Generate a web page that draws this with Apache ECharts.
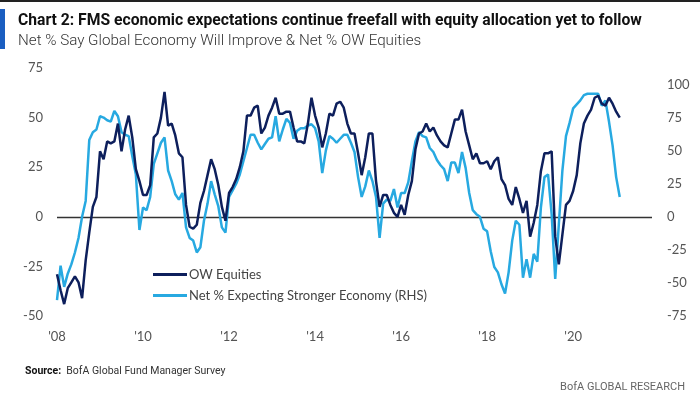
<!DOCTYPE html>
<html>
<head>
<meta charset="utf-8">
<script src="https://cdn.jsdelivr.net/npm/echarts@6/dist/echarts.min.js"></script>
<style>
  html, body { margin: 0; padding: 0; background: #fff; }
  #chart { width: 700px; height: 399px; }
</style>
</head>
<body>
<div id="chart"></div>
<script>
// monthly points, first point = Jan '08 on the axis
var startYear = 2008;
var yearTicks = ["'08", "'10", "'12", "'14", "'16", "'18", "'20"];

// OW Equities (net %, LHS)
var owEquities = [
  -29, -37, -44, -36, -33, -30, -33, -41, -22, -8, 5, 10,
  33, 29, 38, 37, 38, 47, 33, 44, 51, 40, 24, 18,
  11, 11, 16, 40, 42, 50, 63, 46, 47, 41, 32, 30,
  6, -5, -6, -4, 7, 13, 21, 29, 24, 16, 5, -2,
  12, 15, 19, 25, 33, 51, 51, 55, 56, 42, 45, 51,
  55, 60, 52, 52, 53, 53, 45, 38, 38, 37, 47, 60,
  51, 45, 35, 42, 52, 51, 57, 58, 55, 47, 42, 42,
  32, 21, 30, 42, 42, 18, 5, 11, 11, 6, 2, 0,
  6, 1, 11, 18, 34, 42, 43, 47, 43, 45, 41, 38,
  36, 35, 42, 49, 49, 54, 43, 36, 29, 32, 27, 27,
  28, 24, 28, 30, 19, 16, 9, 6, 15, 9, 2, 8,
  -10, -3, 6, 23, 32, 32, 33, -10, -24, -9, 6, 8,
  13, 21, 37, 47, 51, 54, 60, 61, 57, 56, 60, 57,
  53, 50
];

// Net % expecting stronger economy (RHS)
var economyNet = [
  -63, -37, -53, -43, -36, -27, -16, 0, 12, 58, 64, 66,
  76, 75, 73, 72, 80, 76, 64, 62, 61, 46, 32, -10,
  7, 5, 15, 40, 48, 56, 60, 35, 27, 17, 13, 18,
  -8, -16, -18, -27, -23, -3, 10, 27, 17, 8, -8, -12,
  15, 20, 25, 32, 42, 52, 62, 62, 56, 51, 55, 59,
  60, 76, 57, 66, 74, 71, 59, 65, 67, 67, 69, 70,
  67, 57, 33, 50, 61, 59, 56, 59, 62, 62, 56, 49,
  30, 15, 23, 35, 27, 15, -16, 10, 13, 12, 21, 7,
  18, 18, 26, 42, 57, 64, 61, 60, 52, 49, 43, 39,
  36, 27, 41, 41, 33, 49, 37, 18, 5, 2, 0, -9,
  -11, -26, -38, -42, -51, -58, -42, -18, -3, -6, -46, -32,
  -46, -28, -34, 7, 30, 32, 2, -47, -6, 35, 61, 71,
  82, 85, 88, 92, 93, 93, 93, 93, 84, 88, 72, 54,
  30, 15
];

var navy = "#0d1f5c";
var sky = "#27a9e1";
var labelFont = "Lato";
var headFont = "Roboto";

function toPoints(arr) {
  return arr.map(function (v, i) { return [i, v]; });
}

var myChart = echarts.init(document.getElementById("chart"), null, { renderer: "canvas" });

var option = {
  backgroundColor: "#fff",
  animation: false,
  title: [
    {
      text: "Chart 2: FMS economic expectations continue freefall with equity allocation yet to follow",
      subtext: "Net % Say Global Economy Will Improve & Net % OW Equities",
      left: 13,
      top: 8,
      itemGap: 5,
      textStyle: { fontFamily: headFont, fontWeight: "bold", fontSize: 15.7, color: "#111" },
      subtextStyle: { fontFamily: headFont, fontWeight: 300, fontSize: 15.2, color: "#333" }
    },
    {
      text: "{b|Source:}  BofA Global Fund Manager Survey",
      left: 20,
      top: 361,
      textStyle: {
        fontFamily: headFont, fontSize: 10.5, fontWeight: "normal", color: "#333",
        rich: { b: { fontFamily: headFont, fontSize: 10.5, fontWeight: "bold", color: "#111" } }
      }
    },
    {
      text: "BofA GLOBAL RESEARCH",
      right: 10,
      top: 377,
      textStyle: { fontFamily: headFont, fontSize: 11, fontWeight: "normal", color: "#666" }
    }
  ],
  graphic: [
    { type: "rect", left: 0, top: 0, shape: { width: 700, height: 2 }, style: { fill: "#222" } },
    { type: "rect", left: 0, top: 9, shape: { width: 5, height: 40 }, style: { fill: "#1a5ec1" } }
  ],
  legend: {
    orient: "vertical",
    left: 148,
    top: 263,
    itemWidth: 34,
    itemHeight: 3,
    itemGap: 8,
    icon: "rect",
    textStyle: { fontFamily: labelFont, fontSize: 13, color: "#444", padding: [0, 0, 0, -3] },
    data: ["OW Equities", "Net % Expecting Stronger Economy (RHS)"]
  },
  grid: { left: 57, right: 48, top: 68, bottom: 83 },
  xAxis: {
    type: "value",
    min: 0,
    max: 166,
    interval: 24,
    splitLine: { show: false },
    axisLine: { show: false },
    axisTick: { show: false },
    axisLabel: {
      margin: 14,
      fontFamily: labelFont,
      fontSize: 13,
      color: "#555",
      formatter: function (v) {
        var k = v / 24;
        return (v % 24 === 0 && yearTicks[k]) ? yearTicks[k] : "";
      }
    }
  },
  yAxis: [
    {
      type: "value",
      min: -50,
      max: 75,
      interval: 25,
      splitLine: { show: false },
      axisLine: { show: false },
      axisTick: { show: false },
      axisLabel: { margin: 14, fontFamily: labelFont, fontSize: 13, color: "#555" }
    },
    {
      type: "value",
      min: -75,
      max: 112.5,
      interval: 25,
      position: "right",
      splitLine: { show: false },
      axisLine: { show: false },
      axisTick: { show: false },
      axisLabel: {
        margin: 15,
        fontFamily: labelFont,
        fontSize: 13,
        color: "#555",
        formatter: function (v) { return v % 25 === 0 ? v : ""; }
      }
    }
  ],
  series: [
    {
      name: "Net % Expecting Stronger Economy (RHS)",
      type: "line",
      yAxisIndex: 1,
      data: toPoints(economyNet),
      showSymbol: false,
      symbol: "none",
      color: sky,
      lineStyle: { width: 2.5, color: sky },
      z: 2
    },
    {
      name: "OW Equities",
      type: "line",
      yAxisIndex: 0,
      data: toPoints(owEquities),
      showSymbol: false,
      symbol: "none",
      color: navy,
      lineStyle: { width: 2.5, color: navy },
      z: 3,
      markLine: {
        silent: true,
        symbol: "none",
        label: { show: false },
        lineStyle: { color: "#333", width: 1.3, type: "solid" },
        data: [{ yAxis: 0 }],
        z: 1
      }
    }
  ]
};

myChart.setOption(option);
window.addEventListener("resize", function () {
  myChart.resize();
});
</script>
</body>
</html>
